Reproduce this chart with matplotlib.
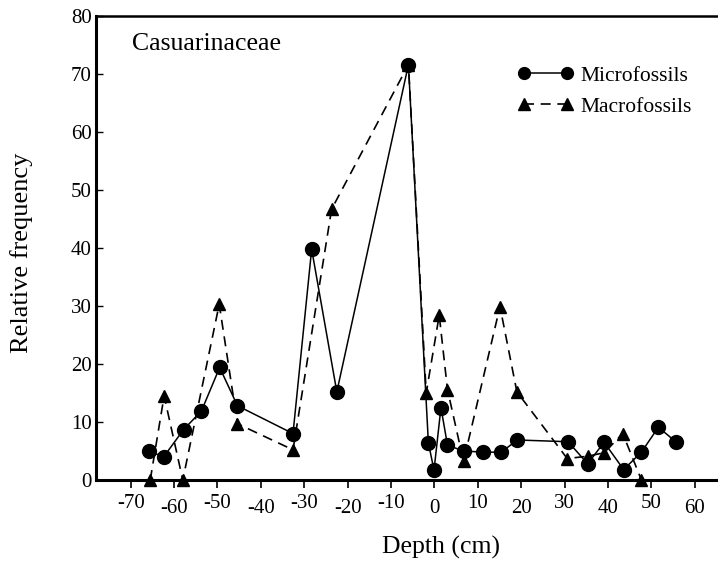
import matplotlib
matplotlib.use("Agg")
import matplotlib.pyplot as plt

# Data
micro_depth = [-65.9, -62.4, -57.8, -53.7, -49.5, -45.4, -32.6, -28.3, -22.5, -6.0,
               -1.4, -0.1, 1.5, 3.0, 6.7, 11.2, 15.4, 19.1, 30.8, 35.3, 39.1, 43.6, 47.7, 51.6, 55.6]
micro_freq = [5.0, 4.0, 8.7, 11.9, 19.4, 12.8, 8.0, 39.8, 15.2, 71.6,
              6.4, 1.7, 12.5, 6.0, 5.0, 4.8, 4.8, 6.9, 6.6, 2.8, 6.5, 1.8, 4.8, 9.1, 6.6]
macro_depth = [-65.5, -62.3, -58.0, -49.6, -45.4, -32.6, -23.7, -6.0,
               -1.9, 1.1, 3.0, 6.7, 15.1, 19.0, 30.6, 35.3, 39.1, 43.4, 47.7]
macro_freq = [0.0, 14.5, 0.0, 30.3, 9.7, 5.2, 46.7, 71.6,
              15.0, 28.4, 15.6, 3.2, 29.9, 15.2, 3.7, 4.1, 4.7, 8.0, 0.0]
x_ticks = [-70, -60, -50, -40, -30, -20, -10, 0, 10, 20, 30, 40, 50, 60]
y_ticks = [0, 10, 20, 30, 40, 50, 60, 70, 80]

plt.rcParams['font.family'] = ['Liberation Serif', 'DejaVu Serif']

fig = plt.figure(figsize=(7.18, 5.62), dpi=100)
ax_w = 1 - 96/718 + 0.01
ax = fig.add_axes([96/718, 1-480/562, ax_w, (480-16)/562])

ax.plot(macro_depth, macro_freq, color='black', lw=1.2, ls=(0, (6, 4)),
        marker='^', ms=8.5, mfc='black', mec='black', clip_on=False, zorder=3,
        label='Macrofossils')
ax.plot(micro_depth, micro_freq, color='black', lw=1.1, ls='-',
        marker='o', ms=10, mfc='black', mec='black', clip_on=False, zorder=4,
        label='Microfossils')

ax.set_xlim(-78, 67)
ax.set_ylim(0, 80)
ax.set_xticks(x_ticks)
ax.set_yticks(y_ticks)
ax.set_xticklabels([str(t) for t in x_ticks])
ax.set_yticklabels([str(t) for t in y_ticks])
ax.tick_params(axis='x', direction='out', length=6, width=1.2, labelsize=15)
for i, tick in enumerate(ax.xaxis.get_major_ticks()):
    tick.set_pad(4 if i % 2 == 0 else 8)
ax.tick_params(axis='y', direction='in', length=5, width=1.0, labelsize=15, pad=3)

for s in ['left', 'bottom']:
    ax.spines[s].set_linewidth(2.2)
ax.spines['top'].set_linewidth(1.8)
ax.spines['right'].set_visible(False)

ax_px_w = 718 * ax_w
ax.set_xlabel('Depth (cm)', fontsize=18.5)
ax.xaxis.set_label_coords((441 - 96) / ax_px_w, (480 - 536) / 464)
ax.set_ylabel('Relative frequency', fontsize=19)
ax.yaxis.set_label_coords((33 - 96) / ax_px_w, (480 - 253) / 464)

ax.text(0.057, 0.963, 'Casuarinaceae', transform=ax.transAxes, fontsize=18.5,
        ha='left', va='top')

handles, labels = ax.get_legend_handles_labels()
leg = ax.legend(handles[::-1], labels[::-1], loc='upper left',
                bbox_to_anchor=(507/718, 1-55/562), bbox_transform=fig.transFigure,
                frameon=False, numpoints=2, handlelength=2.6, fontsize=15.5,
                handletextpad=0.3, labelspacing=0.5, borderpad=0)
for h in leg.legend_handles:
    h.set_markersize(8.5)

fig.savefig('out.png', dpi=100)
